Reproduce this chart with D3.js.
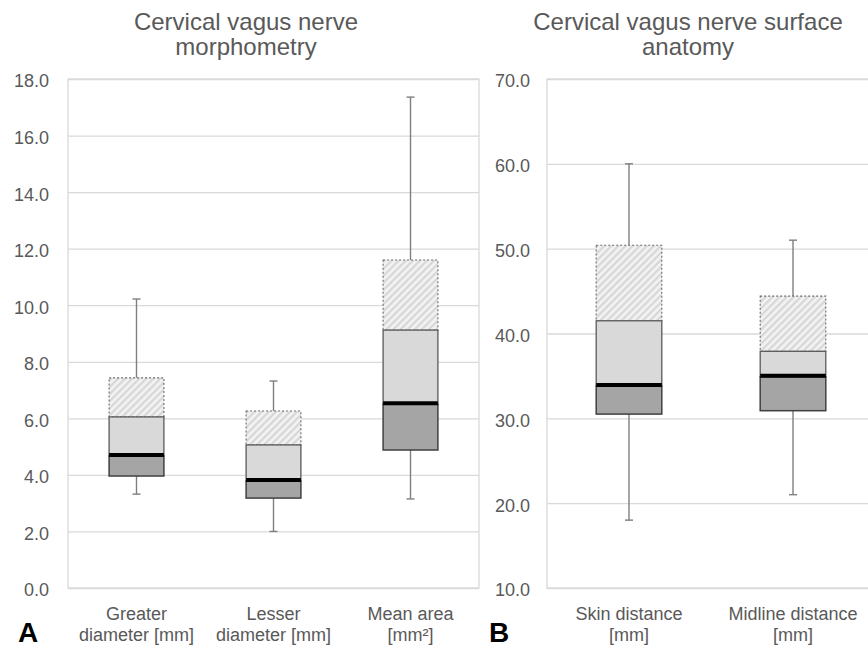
<!DOCTYPE html>
<html>
<head>
<meta charset="utf-8">
<script src="https://cdn.jsdelivr.net/npm/d3@7"></script>
<style>
  html, body { margin: 0; padding: 0; background: #fff; }
  svg { display: block; font-family: "Liberation Sans", Arial, sans-serif; }
</style>
</head>
<body>
<svg id="chart" width="868" height="648"></svg>
<script>
// ---- Data ----
const categoriesA = ["Greater|diameter [mm]", "Lesser|diameter [mm]", "Mean area|[mm²]"];
const minA    = [3.32, 2.00, 3.15];
const q1A     = [3.96, 3.18, 4.88];
const medianA = [4.67, 3.78, 6.50];
const q3A     = [6.05, 5.06, 9.12];
const upperA  = [7.43, 6.26, 11.60];
const maxA    = [10.22, 7.32, 17.36];
const ticksA  = [0, 2, 4, 6, 8, 10, 12, 14, 16, 18];

const categoriesB = ["Skin distance|[mm]", "Midline distance|[mm]"];
const minB    = [18.0, 21.0];
const q1B     = [30.5, 30.9];
const medianB = [33.8, 34.9];
const q3B     = [41.5, 37.9];
const upperB  = [50.4, 44.4];
const maxB    = [60.0, 51.0];
const ticksB  = [10, 20, 30, 40, 50, 60, 70];

const titleA = ["Cervical vagus nerve", "morphometry"];
const titleB = ["Cervical vagus nerve surface", "anatomy"];

// ---- Drawing ----
const svg = d3.select("#chart");
const textCol = "#595959";
const gridCol = "#d9d9d9";

const defs = svg.append("defs");
const pat = defs.append("pattern")
  .attr("id", "hatch")
  .attr("patternUnits", "userSpaceOnUse")
  .attr("width", 5).attr("height", 5)
  .attr("patternTransform", "rotate(45)");
pat.append("rect").attr("width", 5).attr("height", 5).attr("fill", "#f3f3f3");
pat.append("line").attr("x1", 1.2).attr("y1", 0).attr("x2", 1.2).attr("y2", 5)
  .attr("stroke", "#d6d6d6").attr("stroke-width", 2.2);

function panel(cfg) {
  const { cats, mins, q1s, meds, q3s, ups, maxs, ticks, domain, x0, x1, yTop, yBot, title, titleX, letter, letterX, tickRight } = cfg;
  const g = svg.append("g");
  const y = d3.scaleLinear().domain(domain).range([yBot, yTop]);
  const x = d3.scaleBand().domain(cats).range([x0, x1]).paddingInner(0).paddingOuter(0);

  // gridlines
  const grid = g.append("g").attr("transform", `translate(${x0},0)`)
    .call(d3.axisLeft(y).tickValues(ticks).tickSize(-(x1 - x0)).tickFormat(""));
  grid.select(".domain").remove();
  grid.selectAll("line").attr("stroke", gridCol).attr("stroke-width", 1.3);

  // plot border
  g.append("rect").attr("x", x0).attr("y", yTop).attr("width", x1 - x0).attr("height", yBot - yTop)
    .attr("fill", "none").attr("stroke", gridCol).attr("stroke-width", 1.3);

  // tick labels
  g.selectAll(".tl").data(ticks).join("text")
    .attr("x", tickRight).attr("y", d => y(d)).attr("dy", "0.47em")
    .attr("text-anchor", "end").attr("font-size", 18).attr("fill", textCol)
    .text(d => d3.format(".1f")(d));

  const bw = x.bandwidth() * 0.4;
  cats.forEach((c, i) => {
    const cx = x(c) + x.bandwidth() / 2;
    const bx = cx - bw / 2;
    // whiskers
    const wcol = "#7f7f7f";
    g.append("line").attr("x1", cx).attr("x2", cx).attr("y1", y(maxs[i])).attr("y2", y(ups[i]))
      .attr("stroke", wcol).attr("stroke-width", 1.4);
    g.append("line").attr("x1", cx - 4).attr("x2", cx + 4).attr("y1", y(maxs[i])).attr("y2", y(maxs[i]))
      .attr("stroke", wcol).attr("stroke-width", 1.4);
    g.append("line").attr("x1", cx).attr("x2", cx).attr("y1", y(q1s[i])).attr("y2", y(mins[i]))
      .attr("stroke", wcol).attr("stroke-width", 1.4);
    g.append("line").attr("x1", cx - 4).attr("x2", cx + 4).attr("y1", y(mins[i])).attr("y2", y(mins[i]))
      .attr("stroke", wcol).attr("stroke-width", 1.4);
    // hatched segment
    g.append("rect").attr("x", bx).attr("width", bw)
      .attr("y", y(ups[i])).attr("height", y(q3s[i]) - y(ups[i]))
      .attr("fill", "url(#hatch)").attr("stroke", "#6b6b6b").attr("stroke-width", 1.1)
      .attr("stroke-dasharray", "2,2");
    // light segment
    g.append("rect").attr("x", bx).attr("width", bw)
      .attr("y", y(q3s[i])).attr("height", y(meds[i]) - y(q3s[i]))
      .attr("fill", "#d9d9d9").attr("stroke", "#5a5a5a").attr("stroke-width", 1.3);
    // dark segment
    g.append("rect").attr("x", bx).attr("width", bw)
      .attr("y", y(meds[i])).attr("height", y(q1s[i]) - y(meds[i]))
      .attr("fill", "#a5a5a5").attr("stroke", "#404040").attr("stroke-width", 1.5);
    // median
    g.append("line").attr("x1", bx).attr("x2", bx + bw).attr("y1", y(meds[i]) - 1).attr("y2", y(meds[i]) - 1)
      .attr("stroke", "#000").attr("stroke-width", 4);
    // category label
    const parts = c.split("|");
    const t = g.append("text").attr("text-anchor", "middle").attr("font-size", 18).attr("fill", textCol);
    parts.forEach((p, k) => {
      t.append("tspan").attr("x", cx).attr("y", 620 + k * 21).text(p);
    });
  });

  // title
  const tt = g.append("text").attr("text-anchor", "middle").attr("font-size", 24).attr("fill", textCol);
  title.forEach((p, k) => tt.append("tspan").attr("x", titleX).attr("y", 30 + k * 25).text(p));

  // panel letter
  g.append("text").attr("x", letterX).attr("y", 642).attr("font-size", 28).attr("font-weight", "bold")
    .attr("fill", "#000").text(letter);
}

panel({ cats: categoriesA, mins: minA, q1s: q1A, meds: medianA, q3s: q3A, ups: upperA, maxs: maxA,
  ticks: ticksA, domain: [0, 18], x0: 68, x1: 479, yTop: 79, yBot: 588,
  title: titleA, titleX: 246, letter: "A", letterX: 18, tickRight: 49 });

panel({ cats: categoriesB, mins: minB, q1s: q1B, meds: medianB, q3s: q3B, ups: upperB, maxs: maxB,
  ticks: ticksB, domain: [10, 70], x0: 547, x1: 875, yTop: 79, yBot: 588,
  title: titleB, titleX: 688, letter: "B", letterX: 489, tickRight: 530 });
</script>
</body>
</html>
